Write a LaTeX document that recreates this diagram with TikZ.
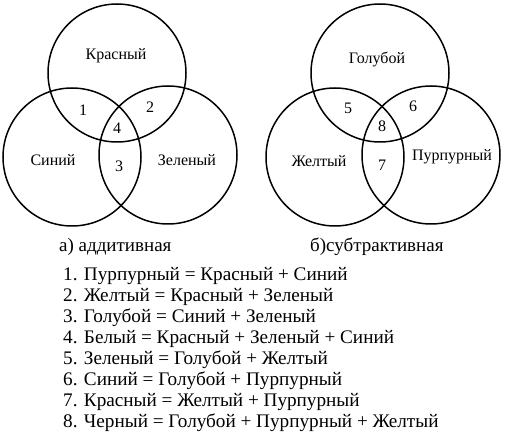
\documentclass[tikz,border=0pt]{standalone}
\usepackage{fontspec}
\setmainfont{Liberation Serif}
\usetikzlibrary{positioning}

\begin{document}
\begin{tikzpicture}[
  x=1pt, y=-1pt,
  ring/.style={draw, circle, line width=1.5pt, minimum size=138pt,
               inner sep=0pt},
  lbl/.style={font=\fontsize{16}{19}\selectfont, inner sep=0pt},
  captxt/.style={font=\fontsize{19}{21}\selectfont, inner sep=0pt,
              anchor=base west},
  item/.style={font=\fontsize{19.2}{21}\selectfont, inner sep=0pt,
               anchor=base west}
]
\useasboundingbox (0,0) rectangle (509,446);

% additive
\node[ring] (red)   at (117,73)  {};
\node[ring] (blue)  at (72,157)  {};
\node[ring] (green) at (168,155) {};
\node[lbl] (tred)   at (116,56)  {Красный};
\node[lbl] (tblue)  at (53,160)  {Синий};
\node[lbl] (tgreen) at (187,160) {Зеленый};
\node[lbl] (n1) at (83,110)  {1};
\node[lbl] (n2) at (150,107) {2};
\node[lbl] (n4) at (117,128) {4};
\node[lbl] (n3) at (119,166) {3};

% subtractive
\node[ring] (cyan)    at (380,73)  {};
\node[ring] (yellow)  at (335,157) {};
\node[ring] (magenta) at (431,155) {};
\node[lbl] (tcyan)    at (377,60)  {Голубой};
\node[lbl] (tyellow)  at (319,161) {Желтый};
\node[lbl] (tmagenta) at (452,157) {Пурпурный};
\node[lbl] (n5) at (348,108) {5};
\node[lbl] (n6) at (413,106) {6};
\node[lbl] (n8) at (382,126) {8};
\node[lbl] (n7) at (382,165) {7};

\node[captxt] (capa) at (59,252)  {а) аддитивная};
\node[captxt] (capb) at (310,252) {б)субтрактивная};

\foreach \txt [count=\i] in {
  Пурпурный = Красный + Синий,
  Желтый = Красный + Зеленый,
  Голубой = Синий + Зеленый,
  Белый = Красный + Зеленый + Синий,
  Зеленый = Голубой + Желтый,
  Синий = Голубой + Пурпурный,
  Красный = Желтый + Пурпурный,
  Черный = Голубой + Пурпурный + Желтый}
  \node[item] (l\i) at (63,{281+20.9*(\i-1)}) {\i. \txt};
\end{tikzpicture}
\end{document}
